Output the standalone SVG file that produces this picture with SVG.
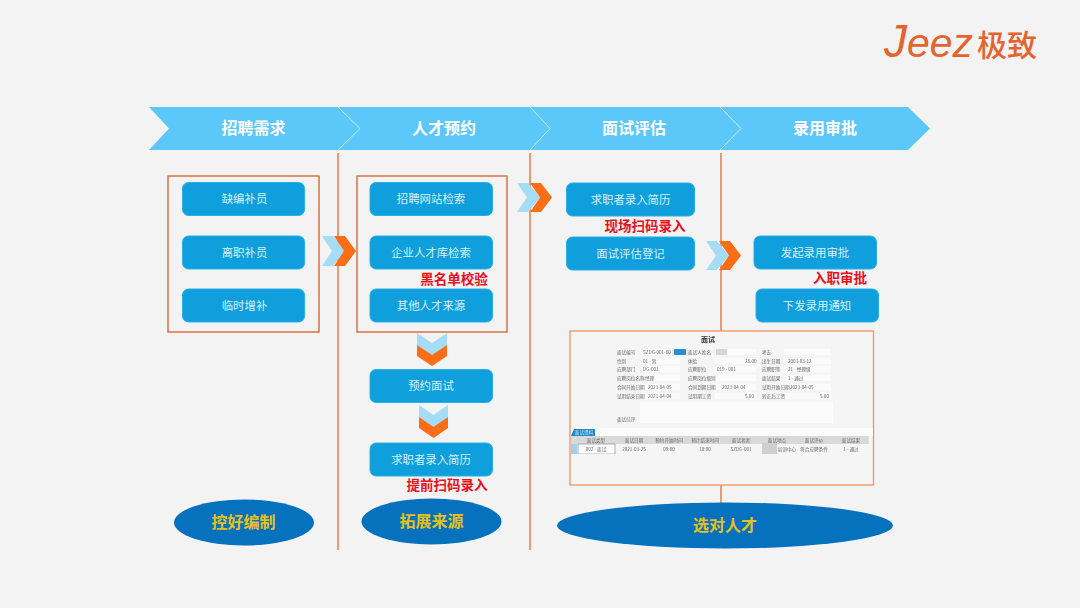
<svg xmlns="http://www.w3.org/2000/svg" width="1080" height="608" viewBox="0 0 1080 608">
<defs><filter id="soft" x="0" y="0" width="1" height="1"><feGaussianBlur stdDeviation="0.45"/></filter></defs>
<style>
text{font-family:"Noto Sans CJK SC","Liberation Sans",sans-serif;text-anchor:middle}
.box{fill:#0f9fdc;stroke:#2aaee3;stroke-width:1}
.t{font-size:11.4px;fill:#d8f1fb;dominant-baseline:central}
.h{font-size:16px;font-weight:700;fill:#fff;dominant-baseline:central}
.r{font-size:13.5px;font-weight:700;fill:#e8101c;dominant-baseline:central}
.e{fill:#0671bd}
.g{font-size:16px;font-weight:700;fill:#e3c21e;dominant-baseline:central}
.fr{fill:none;stroke:#d56a35;stroke-width:1.4}
.v{stroke:#e87c48;stroke-width:1.5;fill:none}
.lb{fill:#a5dcf6}.or{fill:#fb6d16}
.f{font-size:4.6px;fill:#666;text-anchor:start;dominant-baseline:central}
.i{fill:#fbfbfb}
.c{font-size:4.6px;fill:#666;dominant-baseline:central}
</style>
<rect width="1080" height="608" fill="#f3f3f3"/>
<g id="logo">
<text x="884" y="57" style="text-anchor:start;font-family:'Liberation Sans',sans-serif;font-style:italic;fill:#e4632e"><tspan style="font-size:46px">J</tspan><tspan style="font-size:41px">eez</tspan></text>
<text x="1007" y="42.500" style="font-size:30px;font-weight:500;fill:#e4632e;dominant-baseline:central">极致</text>
</g>
<g id="band">
<polygon points="149,107 908,107 930,128.500 908,150 149,150 169,128.500" fill="#5bc8f9"/>
<path d="M338,107 L360,128.500 L338,150 M530,107 L550,128.500 L530,150 M720,107 L741,128.500 L720,150" fill="none" stroke="#c6ecfc" stroke-width="1"/>
<text class="h" x="253.500" y="127">招聘需求</text>
<text class="h" x="444" y="127">人才预约</text>
<text class="h" x="634" y="127">面试评估</text>
<text class="h" x="825" y="127">录用审批</text>
</g>
<g id="connectors">
<path class="v" d="M338,153V550M530,153V550M721,153V331M721,485V503"/>
<g id="arrow-1"><polygon class="lb" points="322,236 333,236 345,251 333,266 322,266 332,251"/><polygon class="or" points="334,236 345,236 356,251 345,266 334,266 344,251"/></g>
<g id="arrow-2"><polygon class="lb" points="517,183 528,183 540,197.500 528,212 517,212 527,197.500"/><polygon class="or" points="530,183 541,183 552,197.500 541,212 530,212 540,197.500"/></g>
<g id="arrow-3"><polygon class="lb" points="706,241 717,241 729,255.500 717,270 706,270 716,255.500"/><polygon class="or" points="719,241 730,241 741,255.500 730,270 719,270 729,255.500"/></g>
<g id="arrow-4"><polygon class="lb" points="417,333 432,343 447,333 447,346 432,357 417,346"/><polygon class="or" points="417,345 432,355 447,345 447,356 432,366 417,356"/></g>
<g id="arrow-5"><polygon class="lb" points="419,405 433.500,415 448,405 448,418 433.500,429 419,418"/><polygon class="or" points="419,417 433.500,427 448,417 448,428 433.500,438 419,428"/></g>
</g>
<rect class="fr" x="168" y="176" width="151" height="156"/>
<rect class="fr" x="357" y="176" width="150" height="156"/>
<g id="n1"><rect class="box" x="182.500" y="182.500" width="122" height="33" rx="6"/><text class="t" x="244.500" y="198">缺编补员</text></g>
<g id="n2"><rect class="box" x="182.500" y="236" width="122" height="33" rx="6"/><text class="t" x="244.500" y="251.500">离职补员</text></g>
<g id="n3"><rect class="box" x="182.500" y="289" width="122" height="33" rx="6"/><text class="t" x="244.500" y="304.500">临时增补</text></g>
<g id="n4"><rect class="box" x="370" y="182.500" width="122.500" height="33" rx="6"/><text class="t" x="431" y="198">招聘网站检索</text></g>
<g id="n5"><rect class="box" x="370" y="236" width="122.500" height="33" rx="6"/><text class="t" x="431" y="251.500">企业人才库检索</text></g>
<g id="n6"><rect class="box" x="370" y="289" width="122.500" height="33" rx="6"/><text class="t" x="431" y="304.500">其他人才来源</text></g>
<g id="n7"><rect class="box" x="370" y="369.500" width="122.500" height="33" rx="6"/><text class="t" x="431" y="385">预约面试</text></g>
<g id="n8"><rect class="box" x="370" y="443" width="122.500" height="33" rx="6"/><text class="t" x="431" y="458.500">求职者录入简历</text></g>
<g id="n9"><rect class="box" x="566.500" y="183" width="128" height="33" rx="6"/><text class="t" x="630.500" y="198.500">求职者录入简历</text></g>
<g id="n10"><rect class="box" x="566.500" y="237" width="128" height="33" rx="6"/><text class="t" x="630.500" y="252.500">面试评估登记</text></g>
<g id="n11"><rect class="box" x="754" y="236" width="122.500" height="33" rx="6"/><text class="t" x="815" y="251.500">发起录用审批</text></g>
<g id="n12"><rect class="box" x="756" y="289" width="122.500" height="33" rx="6"/><text class="t" x="817" y="304.500">下发录用通知</text></g>
<g id="labels">
<text class="r" x="454" y="277.500">黑名单校验</text>
<text class="r" x="645" y="225">现场扫码录入</text>
<text class="r" x="840" y="276.500">入职审批</text>
<text class="r" x="447" y="484">提前扫码录入</text>
</g>
<rect x="570" y="331" width="303.500" height="154" fill="#f5f5f5" stroke="#ee9a68" stroke-width="1.4"/>
<g id="form" filter="url(#soft)">
<text x="708" y="339" style="font-size:7px;font-weight:700;fill:#333;dominant-baseline:central">面试</text>
<g class="i">
<rect x="642" y="349" width="30" height="6"/><rect x="715" y="349" width="41" height="6"/><rect x="784" y="349" width="47" height="6"/>
<rect x="642" y="358" width="38" height="6"/><rect x="715" y="358" width="41" height="6"/><rect x="784" y="358" width="47" height="6"/>
<rect x="642" y="366" width="38" height="6"/><rect x="715" y="366" width="41" height="6"/><rect x="784" y="366" width="47" height="6"/>
<rect x="642" y="375" width="38" height="6"/><rect x="715" y="375" width="41" height="6"/><rect x="784" y="375" width="47" height="6"/>
<rect x="642" y="384" width="38" height="6"/><rect x="715" y="384" width="41" height="6"/><rect x="784" y="384" width="47" height="6"/>
<rect x="642" y="393" width="38" height="6"/><rect x="715" y="393" width="41" height="6"/><rect x="784" y="393" width="47" height="6"/>
<rect x="640" y="402" width="193" height="21"/>
</g>
<rect x="674" y="349" width="12" height="6" fill="#2a8fd0"/>
<rect x="716" y="349" width="11" height="6" fill="#d6d6d6"/>
<text class="f" x="617" y="351.500">面试编号</text><text class="f" x="643" y="351.500">SZDG-001-00</text><text class="f" x="688" y="351.500">面试人姓名</text><text class="f" x="762" y="351.500">考去</text>
<text class="f" x="617" y="360.500">性别</text><text class="f" x="643" y="360.500">01 - 男</text><text class="f" x="688" y="360.500">体验</text><text class="f" x="745" y="360.500">28.00</text><text class="f" x="762" y="360.500">出生日期</text><text class="f" x="788" y="360.500">2001-03-12</text>
<text class="f" x="617" y="368.500">应聘部门</text><text class="f" x="643" y="368.500">DG-001</text><text class="f" x="688" y="368.500">应聘职位</text><text class="f" x="717" y="368.500">019 - 001</text><text class="f" x="762" y="368.500">应聘职等</text><text class="f" x="788" y="368.500">21 - 经理级</text>
<text class="f" x="617" y="377.500">应聘岗位名称</text><text class="f" x="645" y="377.500">经理</text><text class="f" x="688" y="377.500">应聘岗位级别</text><text class="f" x="762" y="377.500">面试结果</text><text class="f" x="788" y="377.500">1 - 通过</text>
<text class="f" x="617" y="386.500">合同开始日期</text><text class="f" x="648" y="386.500">2021-04-05</text><text class="f" x="688" y="386.500">合同到期日期</text><text class="f" x="722" y="386.500">2021-04-04</text><text class="f" x="762" y="386.500">试用开始日期</text><text class="f" x="790" y="386.500">2021-04-05</text>
<text class="f" x="617" y="395.500">试用结束日期</text><text class="f" x="648" y="395.500">2021-04-04</text><text class="f" x="688" y="395.500">试用期工资</text><text class="f" x="745" y="395.500">5.00</text><text class="f" x="762" y="395.500">转正后工资</text><text class="f" x="820" y="395.500">5.00</text>
<text class="f" x="617" y="418.500">面试综评</text>
<rect x="571" y="428" width="302" height="8" fill="#fbfbfb"/>
<polygon points="571,436 574,429 595,429 595,436" fill="#1e88c8"/>
<text x="584" y="432" style="font-size:4.6px;fill:#cfeaf8;dominant-baseline:central">面试资料</text>
<rect x="571" y="436" width="298" height="8" fill="#d9d9d9"/>
<rect x="571" y="444" width="6" height="10" fill="#9fd2ea"/>
<rect x="578" y="444" width="37" height="10" fill="#fff" stroke="#666" stroke-width=".5"/>
<text class="c" x="596" y="439.500">面试类型</text><text class="c" x="634" y="439.500">面试日期</text><text class="c" x="669" y="439.500">预约开始时间</text><text class="c" x="705" y="439.500">预计结束时间</text><text class="c" x="741" y="439.500">面试者者</text><text class="c" x="777" y="439.500">面试地点</text><text class="c" x="814" y="439.500">面试评价</text><text class="c" x="851" y="439.500">面试结果</text>
<rect x="762" y="443" width="15" height="11" fill="#cfcfcf"/>
<text class="c" x="596" y="448.500">002 - 面试</text><text class="c" x="634" y="448.500">2021-03-25</text><text class="c" x="669" y="448.500">09:00</text><text class="c" x="705" y="448.500">10:00</text><text class="c" x="741" y="448.500">SZDG-001</text><text class="c" x="787" y="448.500">培训中心</text><text class="c" x="814" y="448.500">符合应聘条件</text><text class="c" x="851" y="448.500">1 - 通过</text>
</g>
<g id="oval-1"><ellipse class="e" cx="244" cy="522.500" rx="70" ry="23"/><text class="g" x="243.500" y="521">控好编制</text></g>
<g id="oval-2"><ellipse class="e" cx="431.500" cy="521.500" rx="70" ry="23"/><text class="g" x="431.500" y="520">拓展来源</text></g>
<g id="oval-3"><ellipse class="e" cx="725" cy="525.500" rx="168" ry="23"/><text class="g" x="725" y="523.500">选对人才</text></g>
</svg>
